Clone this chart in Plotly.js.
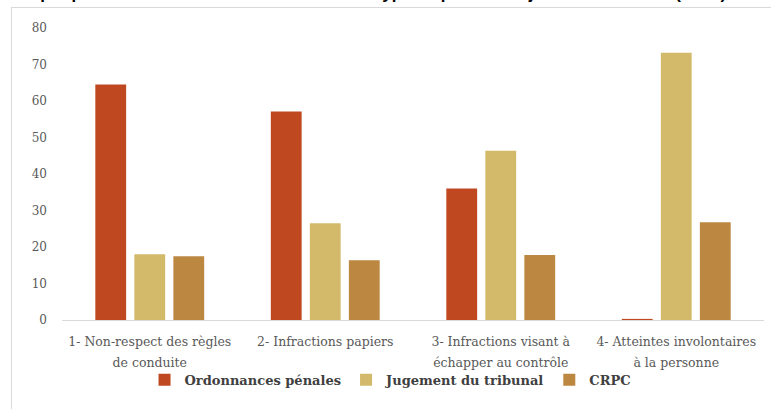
<!DOCTYPE html>
<html>
<head>
<meta charset="utf-8">
<script src="https://cdn.plot.ly/plotly-3.0.1.min.js"></script>
<style>
html,body{margin:0;padding:0;background:#fff;overflow:hidden;}
#wrap{position:relative;width:771px;height:409px;overflow:hidden;background:#fff;}
#frame{position:absolute;left:11px;top:7px;width:900px;height:600px;border:1px solid #d9d9d9;box-sizing:border-box;}
#chart{position:absolute;left:0;top:0;width:771px;height:409px;}
</style>
</head>
<body>
<div id="wrap"><div id="frame"></div><div id="chart"></div></div>
<script>
const categories = ["1- Non-respect des règles<br>de conduite", "2- Infractions papiers", "3- Infractions visant à<br>échapper au contrôle", "4- Atteintes involontaires<br>à la personne"];
const seriesNames = ["Ordonnances pénales", "Jugement du tribunal", "CRPC"];
const ordonnances = [64.5, 57.1, 36.0, 0.3];
const jugement = [18.0, 26.5, 46.4, 73.2];
const crpc = [17.5, 16.4, 17.8, 26.8];
const yTicks = [0, 10, 20, 30, 40, 50, 60, 70, 80];
const titleText = "Graphique 4 - Le contentieux routier selon le type de procédure judiciaire en 2019 (en %)";

const colors = ["#BF4820", "#D3BA6A", "#BC8741"];
const serif = "DejaVu Serif";
const values = [ordonnances, jugement, crpc];

const styleLabel = s => s.split("<br>").map(l => "<span style='font-size:12.5px'>" + l + "</span>").join("<br>");

const traces = seriesNames.map((name, i) => ({
  type: "bar",
  name: name,
  x: categories,
  y: values[i],
  marker: {color: colors[i]},
  hoverinfo: "skip"
}));

const layout = {
  width: 771, height: 409,
  margin: {l: 62, r: 7, t: 28, b: 89, pad: 0},
  paper_bgcolor: "rgba(0,0,0,0)", plot_bgcolor: "rgba(0,0,0,0)",
  barmode: "group",
  bargap: 0.333, bargroupgap: 0.21,
  showlegend: true,
  legend: {
    orientation: "h", x: 0.468, xanchor: "center", y: -0.205, yanchor: "middle",
    bgcolor: "rgba(0,0,0,0)",
    font: {family: serif, size: 13, color: "#404040", weight: "bold"},
    itemwidth: 30, traceorder: "normal"
  },
  xaxis: {
    type: "category",
    tickvals: categories, ticktext: categories.map(styleLabel),
    showline: true, linecolor: "#d9d9d9", linewidth: 1,
    ticks: "", showgrid: false, zeroline: false,
    tickfont: {family: serif, size: 16, color: "#595959"},
    ticklabelstandoff: 6
  },
  yaxis: {
    range: [0, 80], tickvals: yTicks, ticktext: yTicks.map(String),
    showline: false, showgrid: false, zeroline: false, ticks: "",
    tickfont: {family: serif, size: 12, color: "#595959"},
    ticklabelstandoff: 14
  },
  annotations: [{
    text: "<b>" + titleText + "</b>", xref: "paper", yref: "paper",
    x: -0.075, xanchor: "left", y: 1.078, yanchor: "bottom",
    showarrow: false, font: {family: "Liberation Sans", size: 17, color: "#000000"}
  }]
};

Plotly.newPlot("chart", traces, layout, {staticPlot: true, displayModeBar: false});
</script>
</body>
</html>
